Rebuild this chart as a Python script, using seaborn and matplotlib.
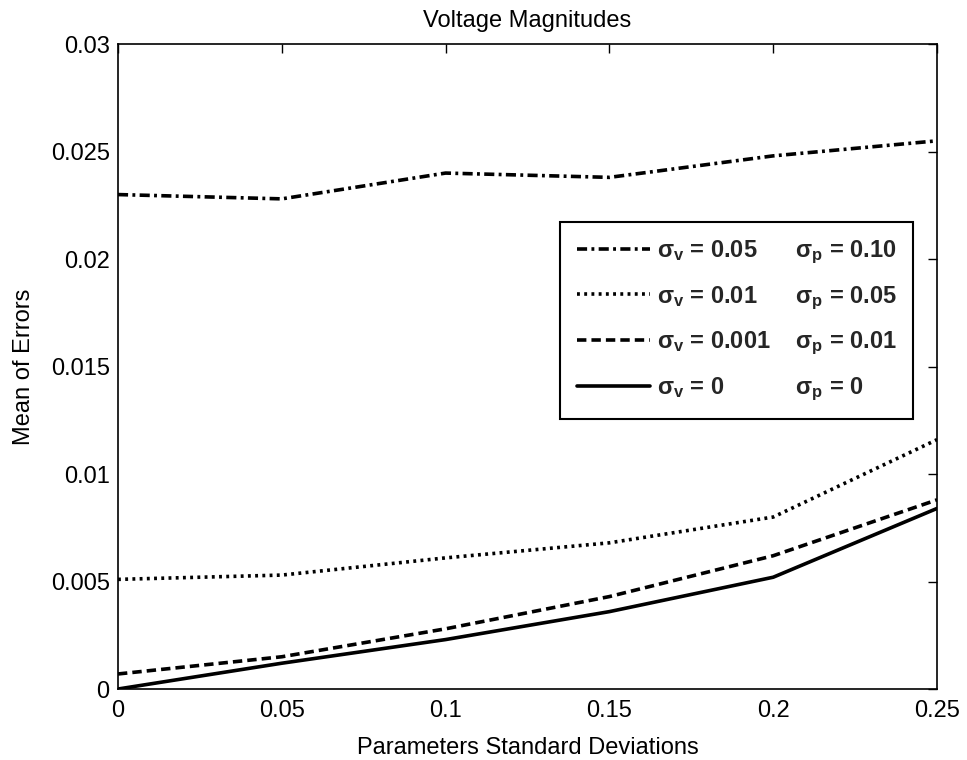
import numpy as np
import pandas as pd
import matplotlib
matplotlib.use("Agg")
import matplotlib.pyplot as plt
import seaborn as sns

x = [0, 0.05, 0.10, 0.15, 0.20, 0.25]
s005 = [0.0230, 0.0228, 0.0240, 0.0238, 0.0248, 0.0255]
s001 = [0.0051, 0.0053, 0.0061, 0.0068, 0.0080, 0.0116]
s0001 = [0.0007, 0.0015, 0.0028, 0.0043, 0.0062, 0.0088]
s0 = [0.0000, 0.0012, 0.0023, 0.0036, 0.0052, 0.0084]

labels = [
    r"$\mathbf{\sigma_v}$ = 0.05" + " " * 6 + r"$\mathbf{\sigma_p}$ = 0.10",
    r"$\mathbf{\sigma_v}$ = 0.01" + " " * 6 + r"$\mathbf{\sigma_p}$ = 0.05",
    r"$\mathbf{\sigma_v}$ = 0.001" + " " * 4 + r"$\mathbf{\sigma_p}$ = 0.01",
    r"$\mathbf{\sigma_v}$ = 0" + " " * 11 + r"$\mathbf{\sigma_p}$ = 0",
]
series = [s005, s001, s0001, s0]
dash_patterns = [(2.8, 1.2, 0.8, 1.2), (0.8, 1.2), (2.6, 1.4), None]

sns.set_theme(style="white")
plt.rcParams["font.family"] = ["Liberation Sans", "DejaVu Sans"]
plt.rcParams["mathtext.fontset"] = "custom"
plt.rcParams["mathtext.rm"] = "Liberation Sans"
plt.rcParams["mathtext.it"] = "Liberation Sans:italic"
plt.rcParams["mathtext.bf"] = "Liberation Sans:bold"

fig = plt.figure(figsize=(9.67, 7.6), dpi=100)
ax = fig.add_axes([0.122, 0.0934, 0.847, 0.8486])

for lab, ys, dp in zip(labels, series, dash_patterns):
    df = pd.DataFrame({"x": x, "y": ys})
    sns.lineplot(data=df, x="x", y="y", ax=ax, color="black", linewidth=2.6,
                 label=lab)
    line = ax.get_lines()[-1]
    if dp is not None:
        line.set_dashes(dp)

ax.set_xlim(0, 0.25)
ax.set_ylim(0, 0.03)
ax.set_xticks([0, 0.05, 0.1, 0.15, 0.2, 0.25])
ax.set_xticklabels(["0", "0.05", "0.1", "0.15", "0.2", "0.25"])
ax.set_yticks([0, 0.005, 0.01, 0.015, 0.02, 0.025, 0.03])
ax.set_yticklabels(["0", "0.005", "0.01", "0.015", "0.02", "0.025", "0.03"])
ax.tick_params(direction="in", top=True, right=True, length=6.5, width=1,
               labelsize=17, colors="black")
ax.tick_params(axis="x", pad=8)
ax.tick_params(axis="y", pad=6)
for sp in ax.spines.values():
    sp.set_color("black")
    sp.set_linewidth(1.2)
ax.set_xlabel("Parameters Standard Deviations", fontsize=17, color="black",
              labelpad=11)
ax.set_ylabel("Mean of Errors", fontsize=17, color="black", labelpad=11)
ax.set_title("Voltage Magnitudes", fontsize=17, color="black", pad=12)

leg = ax.legend(loc="upper left", bbox_to_anchor=(0.5397, 0.724),
                borderaxespad=0, frameon=True,
                fancybox=False, framealpha=1, edgecolor="black",
                prop={"weight": "bold", "size": 17}, handlelength=3.1,
                handletextpad=0.3, labelspacing=0.77, borderpad=0.7)
leg.get_frame().set_linewidth(1.5)
for h in leg.get_lines():
    h.set_linewidth(2.6)

fig.savefig("out.png", dpi=100)
